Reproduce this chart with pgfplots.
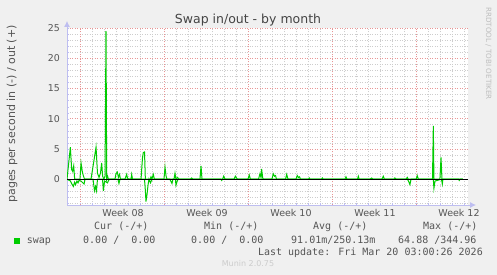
\documentclass[border=0pt]{standalone}
\usepackage{pgfplots}
\pgfplotsset{compat=1.18}
\usepackage{fontspec}
\setmainfont{DejaVu Sans}
\newfontfamily\monofont{DejaVu Sans Mono}
\usetikzlibrary{arrows.meta}
\definecolor{bg}{HTML}{F0F0F0}
\definecolor{swapgreen}{RGB}{0,204,0}
\definecolor{axisblue}{RGB}{190,190,240}
\definecolor{majgrid}{RGB}{232,150,150}
\definecolor{mingrid}{RGB}{205,205,205}
\definecolor{txt}{HTML}{555555}
\definecolor{titletxt}{HTML}{444444}
\definecolor{rrdtxt}{RGB}{190,190,190}
\definecolor{munintxt}{RGB}{204,204,204}
\begin{document}
\begin{tikzpicture}
\fill[bg] (0bp,0bp) rectangle (497bp,275bp);
\begin{axis}[
  at={(67bp,70bp)}, anchor=south west,
  scale only axis, width=401bp, height=177bp,
  xmin=0, xmax=33.42, ymin=-4.26, ymax=25,
  axis lines=left,
  axis line style={axisblue, line width=0.8bp},
  x axis line style={-{Latex[length=6bp,width=6bp]}, shorten >=-8bp},
  y axis line style={-{Latex[length=6bp,width=6bp]}, shorten >=-7bp},
  axis background/.style={fill=white},
  tick align=inside,
  xtick={4.67,11.67,18.67,25.67,32.67},
  xticklabels={Week 08,Week 09,Week 10,Week 11,Week 12},
  major x tick style={draw=none},
  extra x ticks={1.08,8.08,15.08,22.08,29.08},
  extra x tick labels={},
  extra x tick style={grid=major, major grid style={majgrid, line width=0.6bp, dash pattern=on 1bp off 1.5bp}, major tick style={majgrid}},
  minor xtick={1.08,2.08,...,33.08},
  ytick={0,5,10,15,20,25},
  minor ytick={-4,-3,-2,-1,1,2,3,4,6,7,8,9,11,12,13,14,16,17,18,19,21,22,23,24},
  xmajorgrids=false, ymajorgrids=true, xminorgrids=true, yminorgrids=true,
  major grid style={majgrid, line width=0.6bp, dash pattern=on 1bp off 1.5bp},
  minor grid style={mingrid, line width=0.6bp, dash pattern=on 1bp off 1.5bp},
  major tick length=2bp, minor tick length=2bp,
  tick style={axisblue},
  /pgf/number format/assume math mode=true,
  xticklabel style={anchor=base, inner sep=0pt, yshift=-12bp, font=\fontsize{9.5bp}{11bp}\selectfont, text=txt},
  yticklabel style={anchor=east, inner sep=0pt, xshift=-7bp, font=\fontsize{9.4bp}{11bp}\selectfont, text=txt},
]
\addplot[swapgreen, line width=1bp] coordinates {
(0,0)(0.28,5.3)(0.39,1.6)(0.47,1.3)(0.56,2.2)(0.64,0)(1.08,0)(1.17,2.7)(1.28,1.2)(1.36,0.6)(1.46,0)
(2.0,0)(2.2,2.5)(2.42,5.3)(2.54,1.0)(2.67,0.3)(2.79,1.0)(2.89,2.7)(2.97,0.5)(3.08,0)(3.17,0.5)(3.25,24.5)(3.31,0)(3.38,0.5)(3.46,0)
(4.0,0)(4.08,0.9)(4.19,1.2)(4.29,0.3)(4.38,0.8)(4.46,0)(4.83,0)(4.97,0.8)(5.04,0.2)(5.13,0)(5.33,0)(5.39,0.8)(5.46,0)
(6.17,0)(6.29,3.5)(6.36,4.4)(6.46,4.5)(6.53,0)(6.92,0)(7.0,0.4)(7.08,0)(7.19,0.8)(7.29,0)
(8.08,0)(8.17,2.0)(8.25,0.6)(8.33,0)(8.92,0)(9.0,1.0)(9.08,0)(9.21,0.3)(9.33,0)(10.29,0)(10.39,0.2)(10.5,0)
(11.08,0)(11.17,2.2)(11.25,0)(12.96,0)(13.06,0.5)(13.17,0)(13.92,0)(14.03,0.5)(14.13,0.2)(14.21,0)
(15.08,0)(15.19,0.7)(15.29,0)(15.96,0)(16.08,0.9)(16.17,0.3)(16.22,1.7)(16.31,0.2)(16.38,0)
(17.08,0)(17.19,0.9)(17.29,0.5)(17.38,0.6)(17.46,0)(18.21,0)(18.31,0.8)(18.42,0)
(19.08,0)(19.19,0.6)(19.29,0.3)(19.38,0.4)(19.46,0)(20.13,0)(20.19,0.2)(20.25,0)(21.21,0)(21.28,0.2)(21.33,0)
(23.17,0)(23.25,0.4)(23.33,0)(24.21,0)(24.28,0.5)(24.35,0)(25.25,0)(25.39,0.2)(25.5,0)
(26.25,0)(26.36,0.5)(26.46,0)(27.29,0)(27.33,0.2)(27.42,0)(28.25,0)(28.36,0.3)(28.44,0)
(29.11,0)(29.19,0.6)(29.29,0)(30.46,0)(30.53,8.8)(30.58,0)(31.08,0)(31.17,3.6)(31.25,0)(33.0,0)
};
\addplot[swapgreen, line width=1bp] coordinates {
(0,0)(0.29,-0.3)(0.38,-0.7)(0.53,-1.2)(0.63,-0.5)(0.71,-0.9)(0.83,-0.3)(0.92,-0.6)(1.0,-0.2)(1.17,-0.3)(1.42,-0.8)(1.5,0)
(2.17,0)(2.29,-1.9)(2.38,-1.2)(2.46,-1.9)(2.54,0)(2.96,0)(3.03,-1.9)(3.13,-0.3)(3.38,-0.6)(3.46,-0.2)(3.54,0)
(4.25,0)(4.33,-0.7)(4.42,0)(6.46,0)(6.53,-1.8)(6.58,-3.7)(6.67,-2.5)(6.75,-1.0)(6.83,0)(6.96,-0.6)(7.08,0)
(8.58,0)(8.67,-0.4)(8.75,-0.7)(8.83,0)(9.04,0)(9.08,-1.0)(9.17,-0.4)(9.25,0)(12.83,0)(12.89,-0.2)(12.96,0)
(28.38,0)(28.5,-0.5)(28.58,-0.9)(28.67,0)(30.53,0)(30.58,-1.5)(30.67,-0.3)(31.21,0)(31.28,-0.8)(31.33,0)
(32.63,0)(32.69,-0.2)(32.75,0)(33.0,0)
};
\addplot[black, line width=1bp] coordinates {(0,0) (33.42,0)};
\end{axis}
% title
\node[anchor=base, inner sep=0pt, text=titletxt, font=\fontsize{12.5bp}{14bp}\selectfont] at (248bp,251bp) {Swap in/out - by month};
% y label
\node[anchor=base, rotate=90, inner sep=0pt, text=txt, font=\fontsize{11bp}{13bp}\selectfont] at (15bp,161bp) {pages per second in (-) / out (+)};
% rrdtool
\node[anchor=base, rotate=-90, inner sep=0pt, text=rrdtxt, font=\fontsize{7.2bp}{9bp}\selectfont] at (486bp,221.5bp) {RRDTOOL / TOBI OETIKER};
% legend
\begin{scope}[every node/.style={anchor=base west, inner sep=0pt, text=txt, font=\monofont\fontsize{10bp}{12bp}\selectfont}]
\node at (94bp,45bp) {Cur (-/+)};
\node at (204bp,45bp) {Min (-/+)};
\node at (313bp,45bp) {Avg (-/+)};
\node at (423bp,45bp) {Max (-/+)};
\fill[swapgreen] (14bp,31bp) rectangle (20bp,37bp);
\node at (26.7bp,32bp) {swap};
\node at (83bp,32bp) {0.00 /\ \ 0.00};
\node at (191bp,32bp) {0.00 /\ \ 0.00};
\node at (291bp,32bp) {91.01m/250.13m};
\node at (398bp,32bp) {64.88 /344.96};
\node[anchor=base east] at (483bp,20bp) {Last update: Fri Mar 20 03:00:26 2026};
\end{scope}
\node[anchor=base, inner sep=0pt, text=munintxt, font=\fontsize{8bp}{10bp}\selectfont] at (248bp,8.3bp) {Munin 2.0.75};
\pgfresetboundingbox
\useasboundingbox (0bp,0bp) rectangle (497bp,275bp);
\end{tikzpicture}
\end{document}
